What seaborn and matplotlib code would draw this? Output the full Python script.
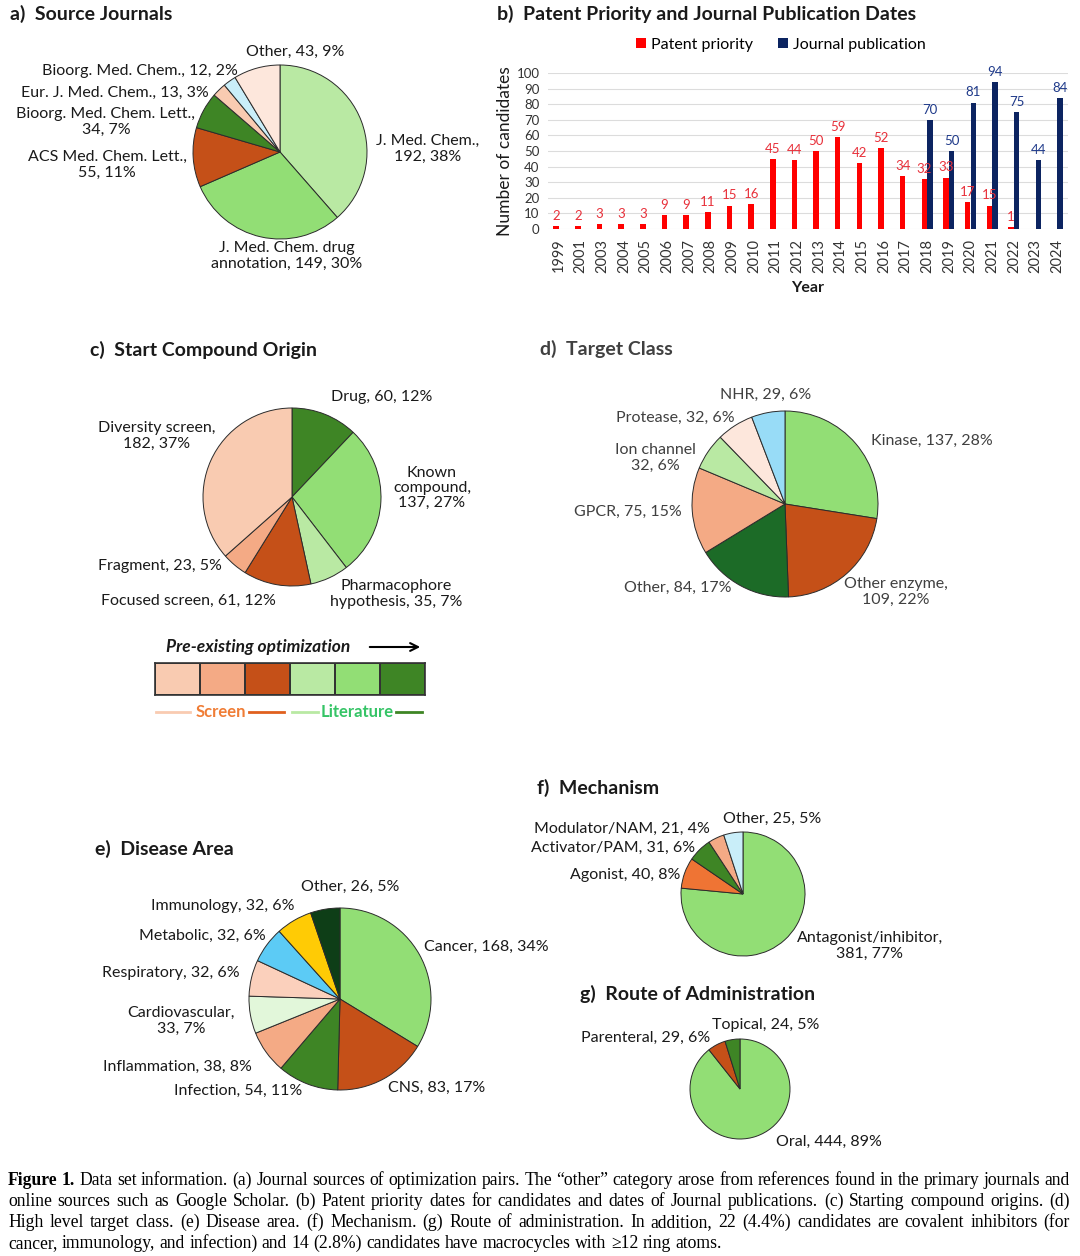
import numpy as np
import pandas as pd
import matplotlib
matplotlib.use("Agg")
import matplotlib.pyplot as plt
import seaborn as sns
from matplotlib.colors import ListedColormap

W, H = 1080, 1256

# a) Source journals
journal_labels = ["J. Med. Chem.,\n192, 38%", "J. Med. Chem. drug\nannotation, 149, 30%",
                  "ACS Med. Chem. Lett.,\n55, 11%", "Bioorg. Med. Chem. Lett.,\n34, 7%",
                  "Eur. J. Med. Chem., 13, 3%", "Bioorg. Med. Chem., 12, 2%", "Other, 43, 9%"]
journal_counts = [192, 149, 55, 34, 13, 12, 43]

# b) Patent priority / journal publication by year
years = ["1999", "2001"] + [str(y) for y in range(2003, 2025)]
patent_counts = [2, 2, 3, 3, 3, 9, 9, 11, 15, 16, 45, 44, 50, 59, 42, 52, 34, 32, 33, 17, 15, 1, 0, 0]
publication_counts = [0] * 17 + [70, 50, 81, 94, 75, 44, 84]

# c) Start compound origin
origin_labels = ["Drug, 60, 12%", "Known\ncompound,\n137, 27%", "Pharmacophore\nhypothesis, 35, 7%",
                 "Focused screen, 61, 12%", "Fragment, 23, 5%", "Diversity screen,\n182, 37%"]
origin_counts = [60, 137, 35, 61, 23, 182]

# d) Target class
target_labels = ["Kinase, 137, 28%", "Other enzyme,\n109, 22%", "Other, 84, 17%", "GPCR, 75, 15%",
                 "Ion channel\n32, 6%", "Protease, 32, 6%", "NHR, 29, 6%"]
target_counts = [137, 109, 84, 75, 32, 32, 29]

# e) Disease area
disease_labels = ["Cancer, 168, 34%", "CNS, 83, 17%", "Infection, 54, 11%", "Inflammation, 38, 8%",
                  "Cardiovascular,\n33, 7%", "Respiratory, 32, 6%", "Metabolic, 32, 6%",
                  "Immunology, 32, 6%", "Other, 26, 5%"]
disease_counts = [168, 83, 54, 38, 33, 32, 32, 32, 26]

# f) Mechanism
mechanism_labels = ["Antagonist/inhibitor,\n381, 77%", "Agonist, 40, 8%", "Activator/PAM, 31, 6%",
                    "Modulator/NAM, 21, 4%", "Other, 25, 5%"]
mechanism_counts = [381, 40, 31, 21, 25]

# g) Route of administration
route_labels = ["Oral, 444, 89%", "Parenteral, 29, 6%", "Topical, 24, 5%"]
route_counts = [444, 29, 24]

PALE_GREEN = "#b9e9a3"
GREEN = "#92de75"
DARK_GREEN = "#3e8525"
RUST = "#c55018"
PEACH = "#f9cbb1"
SALMON = "#f4aa85"
BLUSH = "#fde7dc"
ICE = "#c9eef9"

plt.rcParams["font.family"] = ["Lato", "DejaVu Sans"]

fig = plt.figure(figsize=(W / 100, H / 100), dpi=100)
bg = fig.add_axes([0, 0, 1, 1])
bg.set_xlim(0, W)
bg.set_ylim(H, 0)
bg.axis("off")

TXT = "#1a1a1a"


def title(x, y, s, color=TXT):
    bg.text(x, y, s, fontsize=14, fontweight="bold", color=color, va="center", ha="left")


def label(x, y, s, ha="center", color=TXT):
    bg.text(x, y, s, fontsize=11.5, color=color, ha=ha, va="center", linespacing=1.12)


def draw_pie(cx, cy, r, counts, colors):
    r = r * 1.02
    ax = fig.add_axes([(cx - r) / W, 1 - (cy + r) / H, 2 * r / W, 2 * r / H])
    ax.pie(counts, colors=colors, startangle=90, counterclock=False,
           wedgeprops=dict(edgecolor="#2b2b2b", linewidth=0.7))
    ax.set_xlim(-1.02, 1.02)
    ax.set_ylim(-1.02, 1.02)
    ax.set_aspect("equal")
    ax.axis("off")
    return ax


# ---- a) Source Journals
title(10, 14, "a)  Source Journals")
draw_pie(280, 152, 87, journal_counts,
         [PALE_GREEN, GREEN, RUST, DARK_GREEN, PEACH, ICE, BLUSH])
for (x, y, ha), s in zip([(428, 149, "center"), (287, 256, "center"), (107, 165, "center"),
                          (106, 122, "center"), (209, 93, "right"), (238, 71, "right"),
                          (295, 52, "center")], journal_labels):
    label(x, y, s, ha=ha)

# ---- b) bar chart
title(497, 14, "b)  Patent Priority and Journal Publication Dates")
RED = "#ff0000"
NAVY = "#0c2461"
df = pd.DataFrame({
    "Year": years * 2,
    "Count": patent_counts + publication_counts,
    "Series": ["Patent priority"] * len(years) + ["Journal publication"] * len(years),
})
axb = fig.add_axes([548 / W, 1 - 229 / H, 520 / W, 156 / H])
sns.barplot(data=df, x="Year", y="Count", hue="Series",
            hue_order=["Patent priority", "Journal publication"],
            palette=[RED, NAVY], width=0.5, saturation=1, ax=axb)
for cont, vals, col in zip(axb.containers, [patent_counts, publication_counts], ["#e8303a", "#1f3a8a"]):
    axb.bar_label(cont, labels=[str(v) if v > 0 else "" for v in vals],
                  padding=3, fontsize=9.5, color=col)
axb.set_ylim(0, 100)
axb.set_yticks(range(0, 101, 10))
axb.set_xlim(-0.5, len(years) - 0.5)
axb.tick_params(axis="y", length=0, labelsize=9.5, colors="#333333", pad=6)
axb.tick_params(axis="x", length=0, labelsize=10.5, colors="#333333", rotation=90, pad=7)
axb.yaxis.grid(True, color="#dcdcdc", linewidth=0.8)
axb.set_axisbelow(True)
for sp in axb.spines.values():
    sp.set_visible(False)
axb.set_xlabel("Year", fontsize=11.5, fontweight="bold", color=TXT, labelpad=6)
axb.set_ylabel("Number of candidates", fontsize=12.5, color=TXT, labelpad=3)
axb.legend(loc="center", bbox_to_anchor=(781 / W, 1 - 45 / H), bbox_transform=fig.transFigure,
           ncol=2, frameon=False, fontsize=11.5, handlelength=0.6, handleheight=0.6,
           handletextpad=0.3, columnspacing=1.6)

# ---- c) Start Compound Origin
title(90, 350, "c)  Start Compound Origin")
draw_pie(292, 497, 89, origin_counts,
         [DARK_GREEN, GREEN, PALE_GREEN, RUST, SALMON, PEACH])
for (x, y, ha), s in zip([(382, 397, "center"), (432, 488, "center"), (396, 594, "center"),
                          (101, 601, "left"), (98, 566, "left"), (157, 436, "center")], origin_labels):
    label(x, y, s, ha=ha)

bg.text(258, 647, "Pre-existing optimization", fontsize=12.5, fontweight="bold",
        fontstyle="italic", ha="center", va="center", color=TXT)
bg.annotate("", xy=(423, 647), xytext=(367, 647),
            arrowprops=dict(arrowstyle="->", color="black", lw=1.5, mutation_scale=14))
axk = fig.add_axes([155 / W, 1 - 695 / H, 270 / W, 32 / H])
sns.heatmap(np.arange(6).reshape(1, 6), cmap=ListedColormap([PEACH, SALMON, RUST, PALE_GREEN, GREEN, DARK_GREEN]),
            cbar=False, linewidths=1.2, linecolor="#333333", ax=axk, xticklabels=False, yticklabels=False)
for sp in axk.spines.values():
    sp.set_visible(True)
    sp.set_color("#333333")
    sp.set_linewidth(1.2)
bg.plot([156, 190], [712, 712], color=PEACH, lw=2)
bg.plot([249, 284], [712, 712], color="#e0601e", lw=2)
bg.text(221, 712, "Screen", fontsize=12, fontweight="bold", color="#f07d36", ha="center", va="center")
bg.plot([292, 318], [712, 712], color=PALE_GREEN, lw=2)
bg.plot([396, 422], [712, 712], color=DARK_GREEN, lw=2)
bg.text(357, 712, "Literature", fontsize=12, fontweight="bold", color="#35c466", ha="center", va="center")

# ---- d) Target Class
GRAY = "#404040"
title(540, 349, "d)  Target Class", color=GRAY)
draw_pie(785, 504, 93, target_counts,
         [GREEN, RUST, "#1c6b27", SALMON, PALE_GREEN, BLUSH, "#98dcf7"])
for (x, y, ha), s in zip([(932, 441, "center"), (896, 592, "center"), (678, 588, "center"),
                          (628, 512, "center"), (655, 458, "center"), (675, 418, "center"),
                          (766, 395, "center")], target_labels):
    label(x, y, s, ha=ha, color=GRAY)

# ---- e) Disease Area
title(95, 849, "e)  Disease Area")
draw_pie(340, 999, 91, disease_counts,
         [GREEN, RUST, DARK_GREEN, SALMON, "#e2f7da", "#fbd0bc", "#5ccbf5", "#ffcb05", "#0e3e17"])
for (x, y, ha), s in zip([(486, 947, "center"), (437, 1088, "center"), (238, 1091, "center"),
                          (177, 1067, "center"), (181, 1021, "center"), (171, 973, "center"),
                          (202, 936, "center"), (223, 906, "center"), (350, 887, "center")], disease_labels):
    label(x, y, s, ha=ha)

# ---- f) Mechanism
title(537, 788, "f)  Mechanism")
draw_pie(743, 894, 62, mechanism_counts,
         [GREEN, "#ef7434", DARK_GREEN, SALMON, ICE])
for (x, y, ha), s in zip([(870, 946, "center"), (625, 875, "center"), (613, 848, "center"),
                          (622, 829, "center"), (772, 819, "center")], mechanism_labels):
    label(x, y, s, ha=ha)

# ---- g) Route of Administration
title(580, 994, "g)  Route of Administration")
draw_pie(740, 1089, 50, route_counts, [GREEN, RUST, DARK_GREEN])
for (x, y, ha), s in zip([(829, 1142, "center"), (646, 1038, "center"), (766, 1025, "center")], route_labels):
    label(x, y, s, ha=ha)

# ---- caption (justified like the journal layout)
cap_lines = [
    "Figure 1. Data set information. (a) Journal sources of optimization pairs. The \u201cother\u201d category arose from references found in the primary journals and",
    "online sources such as Google Scholar. (b) Patent priority dates for candidates and dates of Journal publications. (c) Starting compound origins. (d)",
    "High level target class. (e) Disease area. (f) Mechanism. (g) Route of administration. In addition, 22 (4.4%) candidates are covalent inhibitors (for",
    "cancer, immunology, and infection) and 14 (2.8%) candidates have macrocycles with \u226512 ring atoms.",
]
SERIF = ["Liberation Serif", "DejaVu Serif"]
renderer = fig.canvas.get_renderer()
probe = bg.text(0, 0, cap_lines[0], fontsize=12, family=SERIF)
fs = 12 * 1058 / probe.get_window_extent(renderer=renderer).width
probe.remove()

x0, x1 = 8, 1070
for i, (y, line) in enumerate(zip([1185, 1206, 1227, 1248], cap_lines)):
    words = line.split(" ")
    arts = []
    for j, w in enumerate(words):
        bold = i == 0 and j < 2
        arts.append(bg.text(0, y, w, fontsize=fs, family=SERIF, va="baseline", color="black",
                            fontweight="bold" if bold else "normal"))
    ws = [a.get_window_extent(renderer=renderer).width for a in arts]
    if i < 3:
        gap = (x1 - x0 - sum(ws)) / (len(words) - 1)
    else:
        gap = fs * 100 / 72 * 0.25
    x = x0
    for a, w in zip(arts, ws):
        a.set_x(x)
        x += w + gap

fig.savefig("out.png", dpi=100, facecolor="white")
